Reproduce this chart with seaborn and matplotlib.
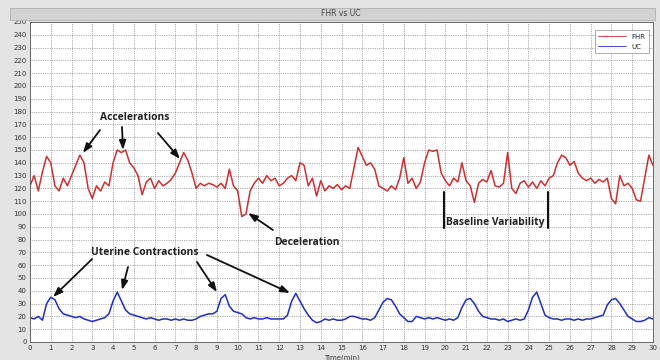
import numpy as np
import matplotlib
matplotlib.use("Agg")
import matplotlib.pyplot as plt
from matplotlib.patches import Rectangle
import seaborn as sns

# ---- data (one value every 0.2 min) ----
fhr = [122, 130, 118, 133, 145, 140, 122, 118, 128, 122,
       130, 138, 146, 140, 120, 112, 122, 118, 125, 122,
       140, 150, 148, 150, 140, 136, 130, 115, 125, 128,
       120, 126, 122, 124, 127, 132, 140, 148, 142, 132,
       120, 124, 122, 124, 123, 121, 124, 120, 135, 122,
       118, 98, 100, 118, 124, 128, 124, 130, 126, 128,
       122, 124, 128, 130, 126, 140, 138, 122, 128, 114,
       126, 118, 122, 120, 123, 119, 122, 120, 136, 152,
       145, 138, 140, 135, 122, 120, 118, 122, 119, 128,
       144, 124, 128, 120, 125, 140, 150, 149, 150, 132,
       126, 122, 128, 125, 140, 126, 122, 109, 124, 127,
       125, 134, 122, 121, 124, 148, 120, 116, 124, 126,
       121, 125, 120, 126, 122, 128, 130, 140, 146, 144,
       138, 141, 132, 128, 126, 128, 124, 127, 125, 128,
       112, 108, 130, 122, 124, 120, 111, 110, 128, 146,
       138]
uc = [19, 18, 20, 17, 30, 35, 33, 26, 22, 21,
      20, 19, 20, 18, 17, 16, 17, 18, 19, 22,
      32, 39, 32, 25, 22, 21, 20, 19, 18, 19,
      18, 17, 18, 18, 17, 18, 17, 18, 17, 17,
      18, 20, 21, 22, 22, 24, 34, 37, 28, 24,
      23, 22, 19, 18, 19, 18, 18, 19, 18, 18,
      18, 18, 21, 32, 38, 32, 26, 21, 17, 15,
      16, 18, 17, 18, 17, 17, 18, 20, 20, 19,
      18, 18, 17, 19, 25, 31, 34, 33, 28, 22,
      19, 16, 16, 20, 19, 18, 19, 18, 19, 18,
      17, 18, 17, 19, 27, 33, 34, 30, 24, 20,
      19, 18, 18, 17, 18, 16, 17, 18, 17, 18,
      25, 35, 39, 30, 21, 19, 18, 18, 17, 18,
      18, 17, 18, 17, 18, 18, 19, 20, 21, 29,
      33, 34, 30, 25, 20, 18, 16, 16, 17, 19,
      18]
t_fhr = np.arange(len(fhr)) * 0.2
t_uc = np.arange(len(uc)) * 0.2

x_ticks = list(range(0, 31))
y_ticks = list(range(0, 251, 10))
title = "FHR vs UC"
x_label = "Time(min)"
series_names = ["FHR", "UC"]

# ---- style ----
sns.set_style("white")
plt.rcParams["font.family"] = ["DejaVu Sans"]

fig = plt.figure(figsize=(6.6, 3.6), dpi=100, facecolor="#e4e4e4")
W, H = 660, 360
ax = fig.add_axes([30 / W, 1 - 342 / H, (653 - 30) / W, (342 - 22) / H])
ax.set_facecolor("white")

# title band
fig.patches.append(Rectangle((10 / W, 1 - 20 / H), 645 / W, 12 / H,
                             transform=fig.transFigure, facecolor="#d2d2d2",
                             edgecolor="#b0b0b0", lw=0.6, zorder=0))
fig.text(341 / W, 1 - 14 / H, title, ha="center", va="center",
         fontsize=5.5, color="#444444")

sns.lineplot(x=t_fhr, y=fhr, ax=ax, color="#cc3030", lw=1.1,
             label=series_names[0])
sns.lineplot(x=t_uc, y=uc, ax=ax, color="#1f2fbf", lw=1.1,
             label=series_names[1])

ax.set_xlim(0, 30)
ax.set_ylim(0, 250)
ax.set_xticks(x_ticks)
ax.set_yticks(y_ticks)
ax.tick_params(axis="both", direction="in", length=2.5, width=0.5,
               labelsize=5, colors="#333333", pad=2.5)
ax.grid(True, linestyle=(0, (1, 1.6)), color="#666666", linewidth=0.5)
for s in ax.spines.values():
    s.set_color("#555555")
    s.set_linewidth(0.6)
ax.set_xlabel(x_label, fontsize=5, color="#333333", labelpad=2)

leg = ax.legend(loc="upper right", fontsize=5, frameon=True, fancybox=False,
                handlelength=4, borderpad=0.5, labelspacing=0.6,
                bbox_to_anchor=(0.999, 0.985))
leg.get_frame().set_edgecolor("#888888")
leg.get_frame().set_linewidth(0.6)
for line in leg.get_lines():
    line.set_linewidth(0.6)

# ---- annotations ----
tfont = dict(fontsize=7.4, fontweight="bold", color="#222222",
             family="Open Sans", ha="center", va="center")
aprops = dict(arrowstyle="-|>,head_length=0.55,head_width=0.2",
              color="#111111", lw=1.3, shrinkA=0, shrinkB=0)

ax.text(5.06, 175, "Accelerations", **tfont)
for (x0, y0), (x1, y1) in [((3.37, 165.6), (2.55, 147.7)),
                           ((4.43, 168), (4.48, 150)),
                           ((6.16, 163.3), (7.22, 143))]:
    ax.annotate("", xy=(x1, y1), xytext=(x0, y0), arrowprops=aprops)

ax.text(13.34, 78, "Deceleration", **tfont)
ax.annotate("", xy=(10.5, 100.8), xytext=(11.7, 87.5), arrowprops=aprops)

ax.text(5.54, 70.3, "Uterine Contractions", **tfont)
for (x0, y0), (x1, y1) in [((2.99, 64.8), (1.11, 35.2)),
                           ((4.72, 58.6), (4.43, 40.6)),
                           ((8.04, 62.5), (9.0, 39)),
                           ((8.52, 68), (12.52, 38.3))]:
    ax.annotate("", xy=(x1, y1), xytext=(x0, y0), arrowprops=aprops)

ax.text(22.39, 93.75, "Baseline Variability", **tfont)
ax.plot([19.93, 19.93], [89, 117], color="#111111", lw=1.5)
ax.plot([24.94, 24.94], [89, 117], color="#111111", lw=1.5)

fig.savefig("out.png", dpi=100, facecolor=fig.get_facecolor())
